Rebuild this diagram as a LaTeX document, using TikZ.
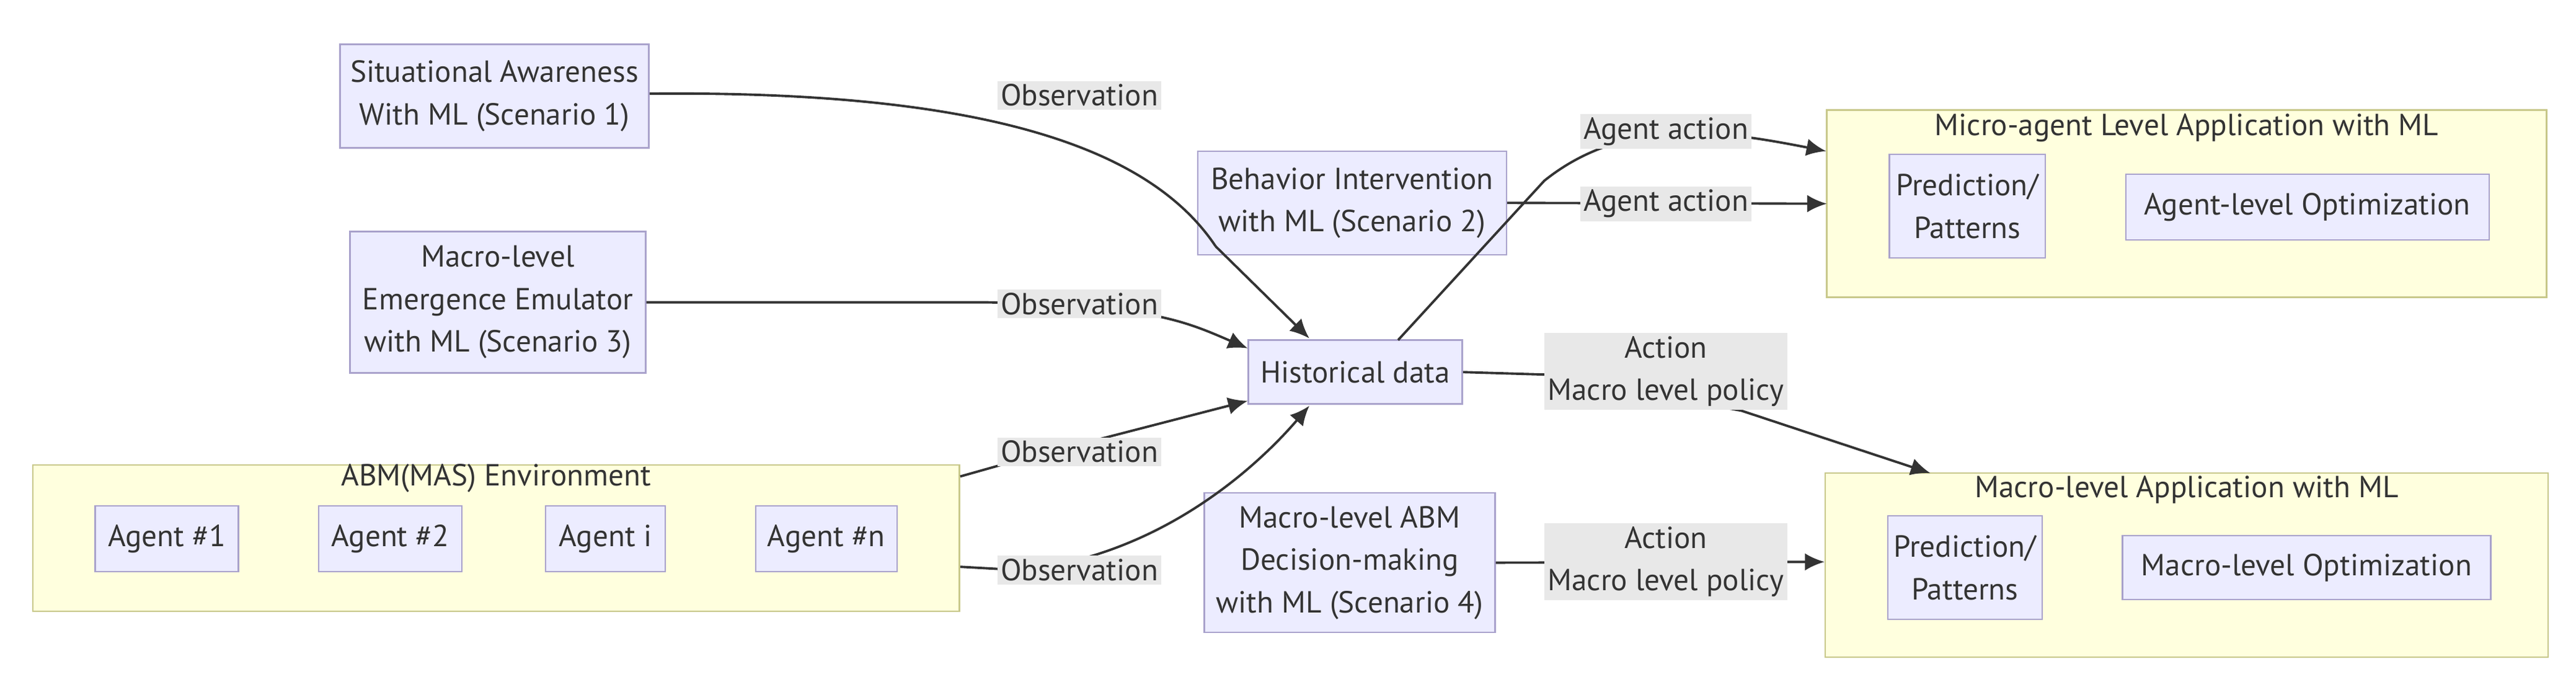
\documentclass[tikz,border=0pt]{standalone}
\usepackage{fontspec}
\setmainfont{PT Sans}
\usetikzlibrary{arrows.meta}
\definecolor{nfill}{HTML}{ECECFF}
\definecolor{nline}{HTML}{A9A2CC}
\definecolor{cfill}{HTML}{FFFFDE}
\definecolor{cline}{HTML}{C8C88A}
\definecolor{lbg}{HTML}{E8E8E8}
\definecolor{tx}{HTML}{333333}
\begin{document}
\begin{tikzpicture}[x=0.0265cm,y=-0.0265cm,
  every node/.style={text=tx,font=\fontsize{14}{19.5}\selectfont,inner sep=0pt},
  nd/.style={draw=nline,fill=nfill,line width=0.7pt,align=center},
  cl/.style={draw=cline,fill=cfill,line width=0.7pt},
  lb/.style={fill=lbg,align=center,inner sep=1.5pt},
  ar/.style={draw=black!80,line width=1.1pt,-{Latex[length=9pt,width=8pt]}},
  ln/.style={draw=black!80,line width=1.1pt}]
\useasboundingbox (0,0) rectangle (1568,412);
% clusters
\node[cl,minimum width=14.95cm,minimum height=2.36cm] (abm) at (302,327.5) {};
\node at (302,291) (abmt) {ABM(MAS) Environment};
\node[cl,minimum width=11.61cm,minimum height=3.02cm] (micro) at (1331,124) {};
\node at (1331,78) (microt) {Micro-agent Level Application with ML};
\node[cl,minimum width=11.66cm,minimum height=2.97cm] (macro) at (1331,344) {};
\node at (1331,298) (macrot) {Macro-level Application with ML};
% nodes
\node[nd,minimum width=4.98cm,minimum height=1.67cm] (sa) at (301,58.5) {Situational Awareness\\With ML (Scenario 1)};
\node[nd,minimum width=4.77cm,minimum height=2.28cm] (me) at (303,184) {Macro-level\\Emergence Emulator\\with ML (Scenario 3)};
\node[nd,minimum width=2.31cm,minimum height=1.06cm] (a1) at (101.5,328) {Agent \#1};
\node[nd,minimum width=2.31cm,minimum height=1.06cm] (a2) at (237.5,328) {Agent \#2};
\node[nd,minimum width=1.93cm,minimum height=1.06cm] (ai) at (368.5,328) {Agent i};
\node[nd,minimum width=2.28cm,minimum height=1.06cm] (an) at (503,328) {Agent \#n};
\node[nd,minimum width=4.98cm,minimum height=1.67cm] (bi) at (823,123.5) {Behavior Intervention\\with ML (Scenario 2)};
\node[nd,minimum width=3.45cm,minimum height=1.03cm] (hd) at (825,226.5) {Historical data};
\node[nd,minimum width=4.69cm,minimum height=2.25cm] (md) at (821.5,342.5) {Macro-level ABM\\Decision-making\\with ML (Scenario 4)};
\node[nd,minimum width=2.52cm,minimum height=1.67cm] (p1) at (1197.5,125.5) {Prediction/\\Patterns};
\node[nd,minimum width=5.86cm,minimum height=1.06cm] (ao) at (1404.5,126) {Agent-level Optimization};
\node[nd,minimum width=2.49cm,minimum height=1.67cm] (p2) at (1196,345.5) {Prediction/\\Patterns};
\node[nd,minimum width=5.94cm,minimum height=1.03cm] (mo) at (1404,345.5) {Macro-level Optimization};
% edges (under labels)
\begin{scope}[on background layer/.style={}]
\end{scope}
\coordinate (h1) at (797,206);
\draw[ln] (sa.east|-0,57) .. controls (600,55) and (700,90) .. (740,150);
\draw[ar] (740,150) -- (h1);
\draw[ar] (me.east|-0,184) -- (600,184) .. controls (700,186) and (720,195) .. (hd.west|-0,212);
\draw[ar] (abm.east|-0,290) -- (620,280) -- (hd.west|-0,244);
\draw[ar] (abm.east|-0,345) -- (620,347) .. controls (700,340) and (760,290) .. (797,247);
\draw[ar] (bi.east) -- (1112,124);
\draw[ar] (851,207) -- (940,110) .. controls (990,70) and (1050,80) .. (micro.west|-0,92);
\draw[ar] (hd.east) -- (940,228) -- (1060,250) -- (1175,288);
\draw[ar] (md.east) -- (macro.west|-0,342);
% labels
\node[lb] (l1) at (657,58) {Observation};
\node[lb] (l2) at (657,185) {Observation};
\node[lb] (l3) at (657,275) {Observation};
\node[lb] (l4) at (657,347) {Observation};
\node[lb] (l5) at (1014,80) {Agent action};
\node[lb] (l6) at (1014,124) {Agent action};
\node[lb] (l7) at (1014,226) {Action\\Macro level policy};
\node[lb] (l8) at (1014,342) {Action\\Macro level policy};
\end{tikzpicture}
\end{document}
